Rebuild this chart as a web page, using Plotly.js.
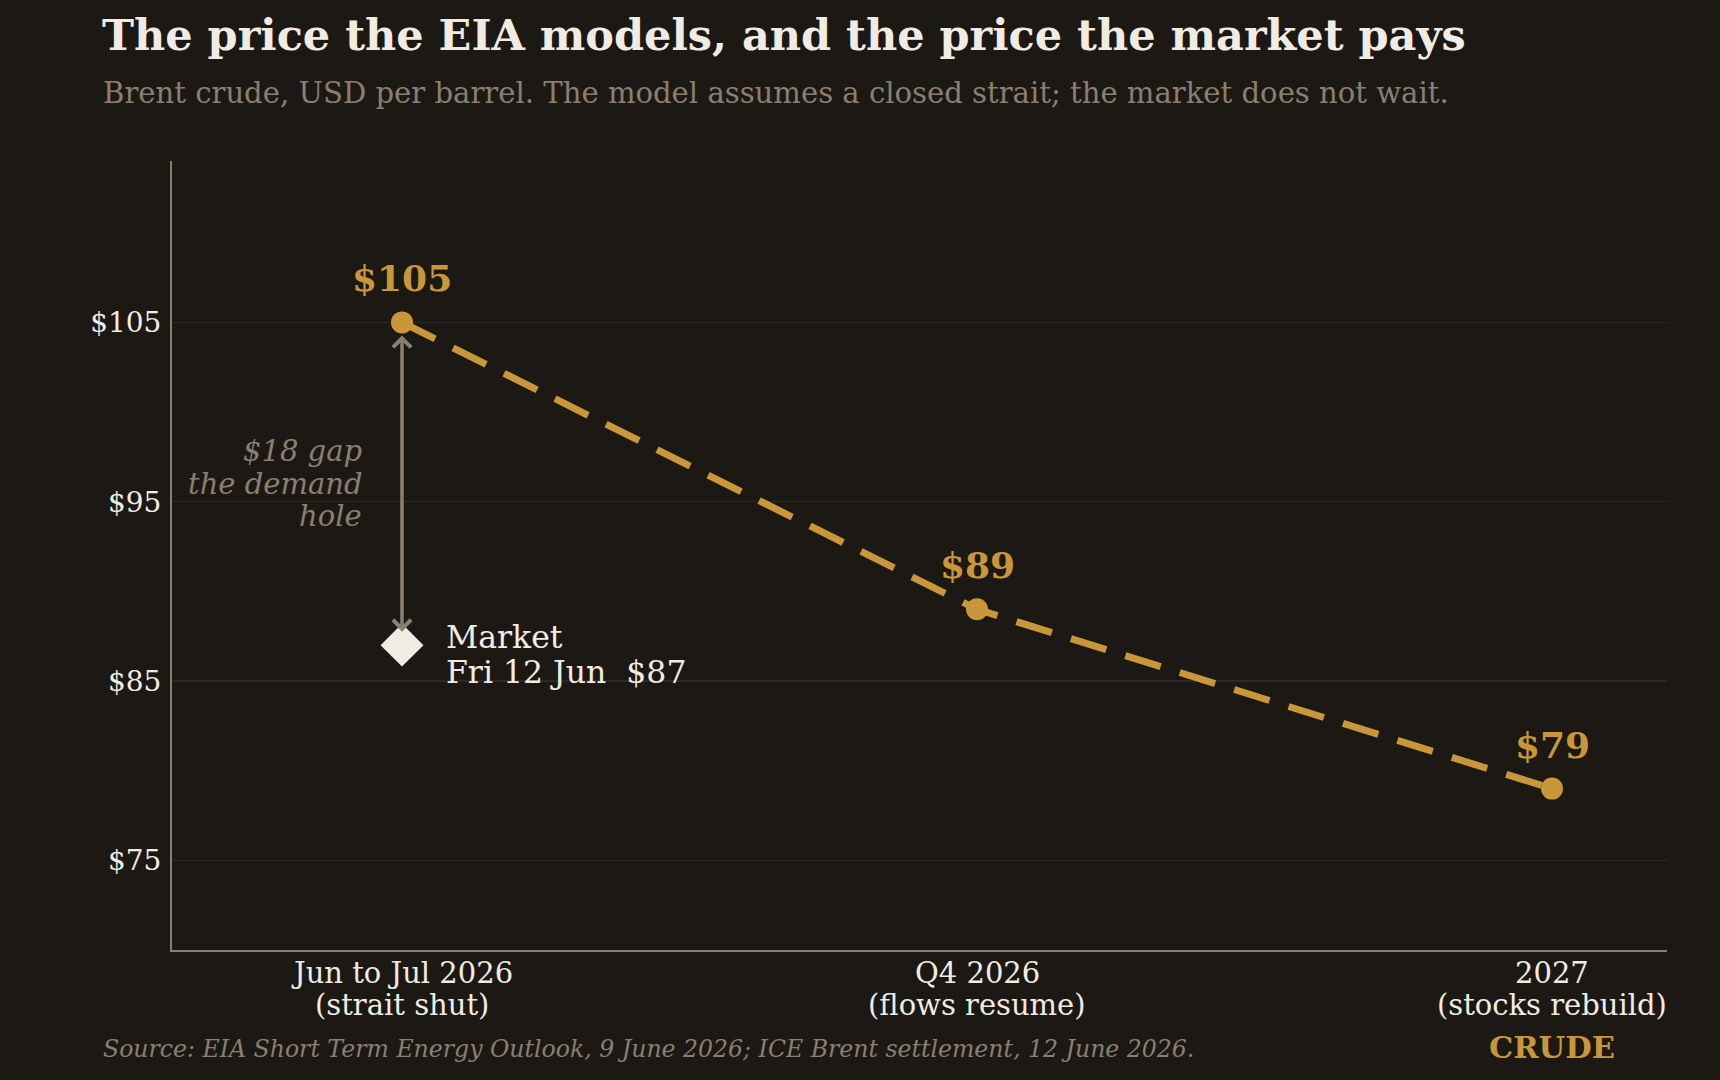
<!DOCTYPE html>
<html>
<head>
<meta charset="utf-8">
<script src="https://cdn.plot.ly/plotly-3.0.1.min.js"></script>
<style>
html,body{margin:0;padding:0;background:#1c1915;}
#chart{width:1720px;height:1080px;}
</style>
</head>
<body>
<div id="chart"></div>
<script>
const periodNames = ["Jun to Jul 2026", "Q4 2026", "2027"];
const periodNotes = ["(strait shut)", "(flows resume)", "(stocks rebuild)"];
const eiaForecast = [105, 89, 79];
const eiaLabels = ["$105", "$89", "$79"];
const marketPeriod = [periodNames[0]];
const marketPrice = [87];
const marketLines = ["Market", "Fri 12 Jun  $87"];
const gapLines = ["$18 gap", "the demand", "hole"];
const gapLabelLevel = 96;
const yTicks = [75, 85, 95, 105];
const yTickText = ["$75", "$85", "$95", "$105"];

const GOLD = "#c9973a";
const BG = "#1c1915";
const MUTED = "#8a7f70";
const TEXT = "#f0ece4";
const GRID = "#2c2823";
const FONT = "DejaVu Serif, serif";

// plot area geometry (pixels)
const PL = 172, PR = 1667, PT = 161, PB = 950;
const PH = PB - PT, PW = PR - PL;

const traces = [
  {
    x: periodNames, y: eiaForecast, type: "scatter", mode: "lines+markers",
    line: {color: GOLD, width: 7, dash: "37px,20px"},
    marker: {color: GOLD, size: 22},
    hoverinfo: "skip", showlegend: false
  },
  {
    x: marketPeriod, y: marketPrice, type: "scatter", mode: "markers",
    marker: {color: TEXT, size: 33, symbol: "diamond"},
    hoverinfo: "skip", showlegend: false
  }
];

const annotations = [];
// category index helper (annotations on a category axis use the index)
const idx = name => periodNames.indexOf(name);

// value labels above the EIA points
eiaLabels.forEach((t, i) => annotations.push({
  x: i, y: eiaForecast[i], xref: "x", yref: "y",
  text: "<b>" + t + "</b>", showarrow: false, yshift: 44,
  font: {family: FONT, size: 36, color: GOLD}
}));

// gap arrow from market price up to the model price
const m0 = idx(marketPeriod[0]);
annotations.push({
  x: m0, y: eiaForecast[m0], xref: "x", yref: "y",
  ax: m0, ay: marketPrice[0], axref: "x", ayref: "y",
  text: "", showarrow: true, arrowside: "end+start",
  arrowhead: 4, startarrowhead: 4, arrowsize: 1, startarrowsize: 1,
  arrowwidth: 3.5, arrowcolor: MUTED, standoff: 13, startstandoff: 12
});

// market label lines
const marketShifts = [8, -27];
marketLines.forEach((t, i) => annotations.push({
  x: m0, y: marketPrice[0], xref: "x", yref: "y",
  text: t, showarrow: false, xanchor: "left", align: "left",
  xshift: 42, yshift: marketShifts[i],
  font: {family: FONT, size: 31.5, color: TEXT}
}));

// gap label lines
const gapShifts = [33, 0, -32];
gapLines.forEach((t, i) => annotations.push({
  x: m0, y: gapLabelLevel, xref: "x", yref: "y",
  text: "<i>" + t + "</i>", showarrow: false, xanchor: "right", align: "right",
  xshift: -38, yshift: gapShifts[i],
  font: {family: FONT, size: 29, color: MUTED}
}));

// x category labels (two lines each, tight spacing)
periodNames.forEach((t, i) => {
  annotations.push({
    x: i, y: -(973 - PB) / PH, xref: "x", yref: "paper", yanchor: "middle",
    text: t, showarrow: false, font: {family: FONT, size: 29, color: TEXT}
  });
  annotations.push({
    x: i, y: -(1005 - PB) / PH, xref: "x", yref: "paper", yanchor: "middle",
    text: periodNotes[i], showarrow: false, font: {family: FONT, size: 29, color: TEXT}
  });
});

// subtitle, source, brand
annotations.push({
  xref: "paper", yref: "paper", x: (101 - PL) / PW, y: 1 + (PT - 93) / PH,
  xanchor: "left", yanchor: "middle", showarrow: false,
  text: "Brent crude, USD per barrel. The model assumes a closed strait; the market does not wait.",
  font: {family: FONT, size: 29.1, color: MUTED}
});
annotations.push({
  xref: "paper", yref: "paper", x: (101 - PL) / PW, y: -(1049 - PB) / PH,
  xanchor: "left", yanchor: "middle", showarrow: false,
  text: "<i>Source: EIA Short Term Energy Outlook, 9 June 2026; ICE Brent settlement, 12 June 2026.</i>",
  font: {family: FONT, size: 23.6, color: MUTED}
});
annotations.push({
  xref: "paper", yref: "paper", x: (1552 - PL) / PW, y: -(1047 - PB) / PH,
  xanchor: "center", yanchor: "middle", showarrow: false,
  text: "<b>CRUDE</b>",
  font: {family: FONT, size: 30.5, color: GOLD}
});

const layout = {
  width: 1720, height: 1080,
  paper_bgcolor: BG, plot_bgcolor: BG,
  margin: {l: PL, r: 1720 - PR, t: PT, b: 1080 - PB},
  font: {family: FONT, color: TEXT},
  title: {
    text: "<b>The price the EIA models, and the price the market pays</b>",
    font: {family: FONT, size: 43, color: TEXT},
    xref: "container", yref: "container", x: 102 / 1720, xanchor: "left",
    y: 1 - 35 / 1080, yanchor: "middle"
  },
  xaxis: {
    type: "category", range: [-0.4, 2.2],
    showgrid: false, zeroline: false, showticklabels: false,
    showline: true, linecolor: MUTED, linewidth: 2,
    ticks: "", fixedrange: true
  },
  yaxis: {
    range: [70, 114], tickvals: yTicks, ticktext: yTickText,
    showgrid: true, gridcolor: GRID, gridwidth: 1.5, zeroline: false,
    showline: true, linecolor: MUTED, linewidth: 2,
    ticks: "", ticklabelstandoff: 3,
    tickfont: {family: FONT, size: 28, color: TEXT}, fixedrange: true
  },
  annotations: annotations
};

Plotly.newPlot("chart", traces, layout, {displayModeBar: false, staticPlot: true});
</script>
</body>
</html>
